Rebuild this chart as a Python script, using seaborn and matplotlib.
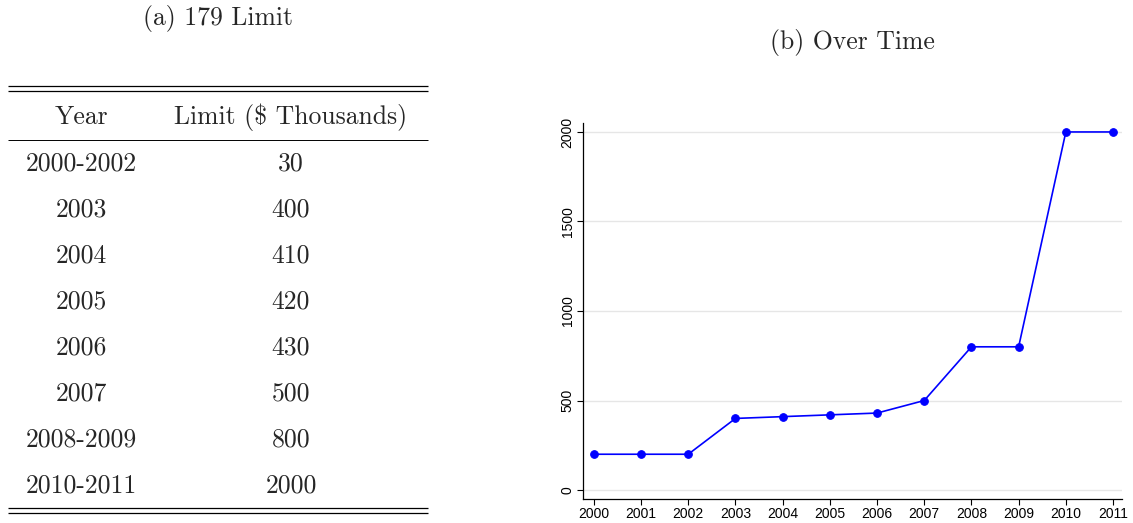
import matplotlib
matplotlib.use("Agg")
import matplotlib.pyplot as plt
import seaborn as sns
import pandas as pd

# Table of contribution limits
table_years = ["2000-2002", "2003", "2004", "2005", "2006", "2007", "2008-2009", "2010-2011"]
table_limits = ["30", "400", "410", "420", "430", "500", "800", "2000"]
table_header = ["Year", "Limit ($ Thousands)"]

# Yearly series for the line chart
years = [2000, 2001, 2002, 2003, 2004, 2005, 2006, 2007, 2008, 2009, 2010, 2011]
limits = [200, 200, 200, 400, 410, 420, 430, 500, 800, 800, 2000, 2000]
y_ticks = [0, 500, 1000, 1500, 2000]

sns.set_theme(style="white")
plt.rcParams["axes.unicode_minus"] = False

W, H = 1133, 523
fig = plt.figure(figsize=(W / 100, H / 100), dpi=100)

serif = "cmr10"
fs = 18.5

# ---- Panel (a): booktabs-style table, laid out in pixel coordinates
tax = fig.add_axes([0, 0, 440 / W, 1])
tax.set_xlim(0, 440)
tax.set_ylim(H, 0)
tax.axis("off")

tax.text(218, 19, "(a) 179 Limit", family=serif, fontsize=fs, ha="center", va="center")

x0, x1 = 8, 428
rule_kw = dict(color="black", solid_capstyle="butt")
tax.plot([x0, x1], [86, 86], lw=0.9, **rule_kw)
tax.plot([x0, x1], [91, 91], lw=0.9, **rule_kw)
tax.plot([x0, x1], [139.5, 139.5], lw=0.7, **rule_kw)
tax.plot([x0, x1], [508, 508], lw=0.9, **rule_kw)
tax.plot([x0, x1], [513, 513], lw=0.9, **rule_kw)

col_x = [81, 291]
tax.text(col_x[0], 117, table_header[0], family=serif, fontsize=fs, ha="center", va="center")
tax.text(col_x[1], 117, table_header[1], family=serif, fontsize=fs, ha="center", va="center")
row_y0, row_dy = 164, 46
for i, (yr, lim) in enumerate(zip(table_years, table_limits)):
    yy = row_y0 + i * row_dy
    tax.text(col_x[0], yy, yr, family=serif, fontsize=fs, ha="center", va="center")
    tax.text(col_x[1], yy, lim, family=serif, fontsize=fs, ha="center", va="center")

# ---- Panel (b): line chart over time
ax = fig.add_axes([583 / W, 1 - 499 / H, (1122 - 583) / W, (499 - 123) / H])
df = pd.DataFrame({"year": years, "limit": limits})
sns.lineplot(data=df, x="year", y="limit", ax=ax, color="#0000ff", lw=1.2,
             marker="o", markersize=5.5, markeredgecolor="#0000ff", zorder=3)

ax.set_xlim(1999.77, 2011.19)
ax.set_ylim(-50, 2050)
ax.set_xticks(years)
ax.set_yticks(y_ticks)
ax.set_xlabel("")
ax.set_ylabel("")

for y in y_ticks:
    ax.axhline(y, color="#e6e6e6", lw=1.0, zorder=0)

for s in ["top", "right"]:
    ax.spines[s].set_visible(False)
for s in ["left", "bottom"]:
    ax.spines[s].set_color("black")
    ax.spines[s].set_linewidth(0.9)

ax.tick_params(axis="both", which="major", length=4, width=0.8, color="black",
               labelsize=10, labelcolor="black", pad=2, left=True, bottom=True)
for lbl in ax.get_xticklabels() + ax.get_yticklabels():
    lbl.set_family("Liberation Sans")
for lbl in ax.get_yticklabels():
    lbl.set_rotation(90)
    lbl.set_va("center")

fig.text(852 / W, 1 - 42 / H, "(b) Over Time", family=serif, fontsize=fs,
         ha="center", va="center")

fig.savefig("out.png", dpi=100, facecolor="white")
